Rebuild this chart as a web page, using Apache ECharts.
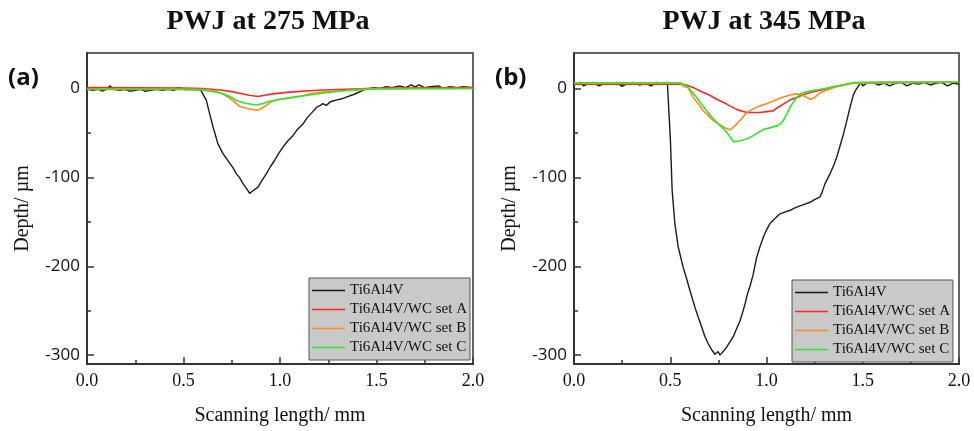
<!DOCTYPE html>
<html>
<head>
<meta charset="utf-8">
<script src="https://cdn.jsdelivr.net/npm/echarts@6/dist/echarts.min.js"></script>
<style>
  html, body { margin: 0; padding: 0; background: #fff; }
  #chart { width: 974px; height: 431px; }
</style>
</head>
<body>
<div id="chart"></div>
<script>
// [scanning length mm, depth um]
// (a) PWJ at 275 MPa
var tiA = [[0,-1],[0.03,-2],[0.06,-1],[0.08,-3],[0.10,-1],[0.118,3],[0.14,-1],[0.17,-2],[0.20,-1],[0.22,-3],[0.25,-2],[0.28,-1],[0.30,-3],[0.33,-2],[0.36,-1],[0.39,-2],[0.42,-1],[0.45,-2],[0.473,1],[0.50,-1],[0.54,-1],[0.57,-1],[0.59,-2],
  [0.618,-13],[0.635,-28],[0.653,-43],[0.678,-62],[0.704,-73],[0.72,-78],[0.739,-84],[0.756,-89],[0.774,-96],[0.79,-100],[0.808,-107],[0.825,-112],[0.843,-118],[0.86,-115],[0.886,-111],[0.905,-104],[0.929,-96],[0.95,-88],[0.972,-81],[0.99,-74],[1.015,-66],[1.04,-59],[1.067,-53],[1.09,-46],[1.119,-40],[1.14,-33],[1.17,-26],[1.19,-21],[1.21,-19],[1.222,-17],[1.24,-19],[1.26,-15],[1.274,-14],[1.29,-13],[1.31,-12],[1.326,-11],[1.35,-9],[1.378,-7],[1.40,-5],[1.421,-3],[1.44,-1],[1.464,0],
  [1.49,1],[1.52,0],[1.55,2],[1.58,1],[1.62,3],[1.65,1],[1.68,4],[1.70,2],[1.72,4],[1.75,1],[1.78,2],[1.82,3],[1.85,0],[1.88,2],[1.92,1],[1.95,2],[2.0,1]];
var setAA = [[0,1],[0.5,0.5],[0.6,0],[0.7,-2],[0.75,-3.5],[0.79,-5.3],[0.84,-7.5],[0.886,-9],[0.92,-7.5],[0.963,-6],[1.05,-4],[1.17,-2.2],[1.3,-1],[1.45,0],[1.6,0.5],[2.0,1]];
var setBA = [[0,-0.5],[0.5,-0.5],[0.62,-1],[0.653,-2.2],[0.70,-6],[0.73,-9.5],[0.756,-13.5],[0.79,-20],[0.83,-22.5],[0.877,-24.5],[0.90,-23],[0.929,-19],[0.95,-15.5],[0.98,-12.8],[1.05,-10.5],[1.12,-7.9],[1.17,-5.3],[1.25,-3.5],[1.35,-2],[1.41,-0.8],[1.5,0],[2.0,0]];
var setCA = [[0,-1],[0.5,-1],[0.6,-1.5],[0.70,-5.3],[0.74,-9],[0.774,-13.5],[0.82,-16.5],[0.877,-18.5],[0.91,-17],[0.946,-14.3],[1.0,-12],[1.05,-10.5],[1.10,-9],[1.17,-6.7],[1.25,-4.5],[1.33,-2.5],[1.41,-1.5],[1.5,-0.5],[2.0,0]];

// (b) PWJ at 345 MPa
var tiB = [[0,5],[0.03,7],[0.05,3],[0.08,6],[0.10,7],[0.13,3],[0.16,6],[0.19,5],[0.22,7],[0.25,2.5],[0.28,6],[0.31,7],[0.34,4],[0.37,6],[0.40,3],[0.43,7],[0.46,6],[0.485,7],[0.489,6.7],
  [0.501,-59],[0.51,-115],[0.524,-152],[0.541,-178],[0.567,-201],[0.585,-214],[0.602,-227],[0.628,-246],[0.645,-257],[0.663,-268],[0.68,-279],[0.697,-287],[0.715,-294],[0.732,-299],[0.742,-301],[0.749,-296],[0.758,-300],[0.775,-296],[0.793,-291],[0.81,-285],[0.828,-279],[0.845,-270],[0.863,-261],[0.876,-252],[0.889,-242],[0.90,-232],[0.915,-222],[0.93,-210],[0.949,-190],[0.966,-178],[0.984,-167],[1.0,-159],[1.018,-152],[1.045,-146],[1.070,-141],[1.095,-139],[1.122,-137],[1.15,-134],[1.174,-132],[1.20,-130],[1.226,-128],[1.25,-125],[1.278,-122],[1.29,-116],[1.304,-107],[1.33,-96],[1.35,-86],[1.365,-77],[1.38,-66],[1.40,-51],[1.415,-38],[1.434,-21],[1.45,-8],[1.46,-3],[1.478,3],
  [1.49,7],[1.50,3],[1.52,6],[1.55,7],[1.58,4],[1.61,6],[1.64,3],[1.67,6],[1.70,7],[1.73,3],[1.76,6],[1.79,5],[1.82,7],[1.85,4],[1.88,6],[1.91,7],[1.94,3],[1.97,6],[2.0,5]];
var setAB = [[0,5],[0.55,5],[0.585,4],[0.62,1],[0.654,-2.7],[0.70,-7],[0.741,-12],[0.78,-16],[0.809,-19.5],[0.85,-24],[0.897,-27],[0.93,-27],[0.966,-27],[1.0,-26],[1.035,-25],[1.06,-21],[1.087,-17.6],[1.12,-13],[1.157,-10],[1.19,-7],[1.226,-4.5],[1.278,-2],[1.33,1],[1.40,4],[1.454,6.5],[1.6,7],[2.0,7]];
var setBB = [[0,6],[0.55,6],[0.567,3],[0.593,1],[0.619,-10],[0.645,-17],[0.671,-25],[0.70,-31],[0.723,-36],[0.76,-41],[0.79,-45],[0.812,-46.5],[0.845,-40],[0.87,-34],[0.897,-27],[0.93,-23],[0.966,-19.5],[1.0,-17],[1.035,-14],[1.08,-10],[1.122,-7.2],[1.15,-6],[1.174,-6.4],[1.195,-8.5],[1.228,-12],[1.25,-10],[1.278,-5],[1.30,-2.7],[1.367,2.2],[1.454,6],[2.0,7]];
var setCB = [[0,6.5],[0.55,6.5],[0.585,3],[0.61,-3],[0.637,-10],[0.66,-17],[0.689,-25],[0.715,-32],[0.741,-38],[0.77,-44],[0.793,-49],[0.812,-55],[0.829,-60],[0.855,-59],[0.879,-58],[0.905,-56],[0.931,-53],[0.96,-49],[0.983,-46],[1.02,-44],[1.053,-42],[1.072,-40],[1.087,-36],[1.105,-29],[1.122,-21],[1.14,-15],[1.157,-10],[1.176,-6],[1.191,-4.5],[1.23,-2.5],[1.28,-0.8],[1.35,2],[1.454,6.7],[2.0,7]];

var seriesNames = ["Ti6Al4V", "Ti6Al4V/WC set A", "Ti6Al4V/WC set B", "Ti6Al4V/WC set C"];
var seriesColors = ["#1a1a1a", "#ff2626", "#ff8c1a", "#2ee62e"];
var yMajor = [-300, -200, -100, 0];
var yMinor = [-250, -150, -50];

var myChart = echarts.init(document.getElementById("chart"));

var serif = "'Liberation Serif', 'Times New Roman', serif";
var frame = "#333";
// thin line icon for legend (extra points keep the 33x14 box)
var lineIcon = "path://M0,0L0.01,0M0,6.3L33,6.3L33,7.7L0,7.7ZM0,14L0.01,14";

function xAxisFor(idx) {
  return {
    gridIndex: idx, type: "value", min: 0, max: 2, interval: 0.5,
    name: "Scanning length/ mm", nameLocation: "middle", nameGap: 42,
    nameTextStyle: { fontFamily: serif, fontSize: 20, color: "#111" },
    axisLine: { show: true, onZero: false, lineStyle: { color: frame, width: 2 } },
    axisTick: { show: true, inside: true, length: 7, lineStyle: { color: frame, width: 1.5 } },
    minorTick: { show: true, splitNumber: 2, length: 4, lineStyle: { color: frame, width: 1.5 } },
    axisLabel: { margin: 8, fontFamily: serif, fontSize: 18, color: "#111",
      formatter: function (v) { return v.toFixed(1); } },
    splitLine: { show: false }
  };
}
function yAxisFor(idx) {
  return {
    gridIndex: idx, type: "value", min: -310, max: 40, position: "left",
    name: "Depth/ \u00b5m", nameLocation: "middle", nameGap: 54, nameRotate: 90,
    nameTextStyle: { fontFamily: serif, fontSize: 20, color: "#111" },
    axisLine: { show: true, onZero: false, lineStyle: { color: frame, width: 2 } },
    axisTick: { show: true, inside: true, length: 7, customValues: yMajor, lineStyle: { color: frame, width: 1.5 } },
    axisLabel: { margin: 7, fontFamily: "'Open Sans', sans-serif", fontSize: 17, color: "#111", customValues: yMajor },
    splitLine: { show: false }
  };
}
function yMinorFor(idx) {
  return {
    gridIndex: idx, type: "value", min: -310, max: 40, position: "left",
    axisLine: { show: false, onZero: false },
    axisTick: { show: true, inside: true, length: 4, customValues: yMinor, lineStyle: { color: frame, width: 1.5 } },
    axisLabel: { show: false },
    splitLine: { show: false }
  };
}
function legendFor(left, top) {
  return {
    orient: "vertical", left: left, top: top,
    data: seriesNames, icon: lineIcon,
    backgroundColor: "#c9c9c9", borderColor: "#555", borderWidth: 1, borderRadius: 0,
    padding: [5, 3, 5, 3], itemGap: 4, itemWidth: 33, itemHeight: 14,
    textStyle: { fontFamily: serif, fontSize: 15, color: "#111", padding: [0, 0, 0, 0] }
  };
}
function line(name, color, xi, yi, data) {
  return {
    name: name, type: "line", xAxisIndex: xi, yAxisIndex: yi,
    symbol: "none", smooth: false, data: data,
    lineStyle: { color: color, width: name === "Ti6Al4V" ? 1.4 : 1.6 },
    itemStyle: { color: color }
  };
}

var option = {
  animation: false,
  graphic: [
    { type: "text", x: 268, y: 22, style: { text: "PWJ at 275 MPa", font: "bold 28px " + serif, fill: "#111", textAlign: "center", textVerticalAlign: "middle" } },
    { type: "text", x: 764, y: 22, style: { text: "PWJ at 345 MPa", font: "bold 28px " + serif, fill: "#111", textAlign: "center", textVerticalAlign: "middle" } },
    { type: "text", x: 8, y: 78, style: { text: "(a)", font: "bold 24px 'Open Sans', sans-serif", fill: "#111", textAlign: "left", textVerticalAlign: "middle" } },
    { type: "text", x: 495, y: 78, style: { text: "(b)", font: "bold 24px 'Open Sans', sans-serif", fill: "#111", textAlign: "left", textVerticalAlign: "middle" } }
  ],
  grid: [
    { left: 87, top: 53, width: 386, height: 312, show: true, borderColor: frame, borderWidth: 1.5, backgroundColor: "transparent" },
    { left: 574, top: 53, width: 385, height: 312, show: true, borderColor: frame, borderWidth: 1.5, backgroundColor: "transparent" }
  ],
  legend: [legendFor(309, 278), legendFor(792, 280)],
  xAxis: [xAxisFor(0), xAxisFor(1)],
  yAxis: [yAxisFor(0), yAxisFor(1), yMinorFor(0), yMinorFor(1)],
  series: [
    line(seriesNames[0], seriesColors[0], 0, 0, tiA),
    line(seriesNames[1], seriesColors[1], 0, 0, setAA),
    line(seriesNames[2], seriesColors[2], 0, 0, setBA),
    line(seriesNames[3], seriesColors[3], 0, 0, setCA),
    line(seriesNames[0], seriesColors[0], 1, 1, tiB),
    line(seriesNames[1], seriesColors[1], 1, 1, setAB),
    line(seriesNames[2], seriesColors[2], 1, 1, setBB),
    line(seriesNames[3], seriesColors[3], 1, 1, setCB)
  ]
};

myChart.setOption(option);
</script>
</body>
</html>
